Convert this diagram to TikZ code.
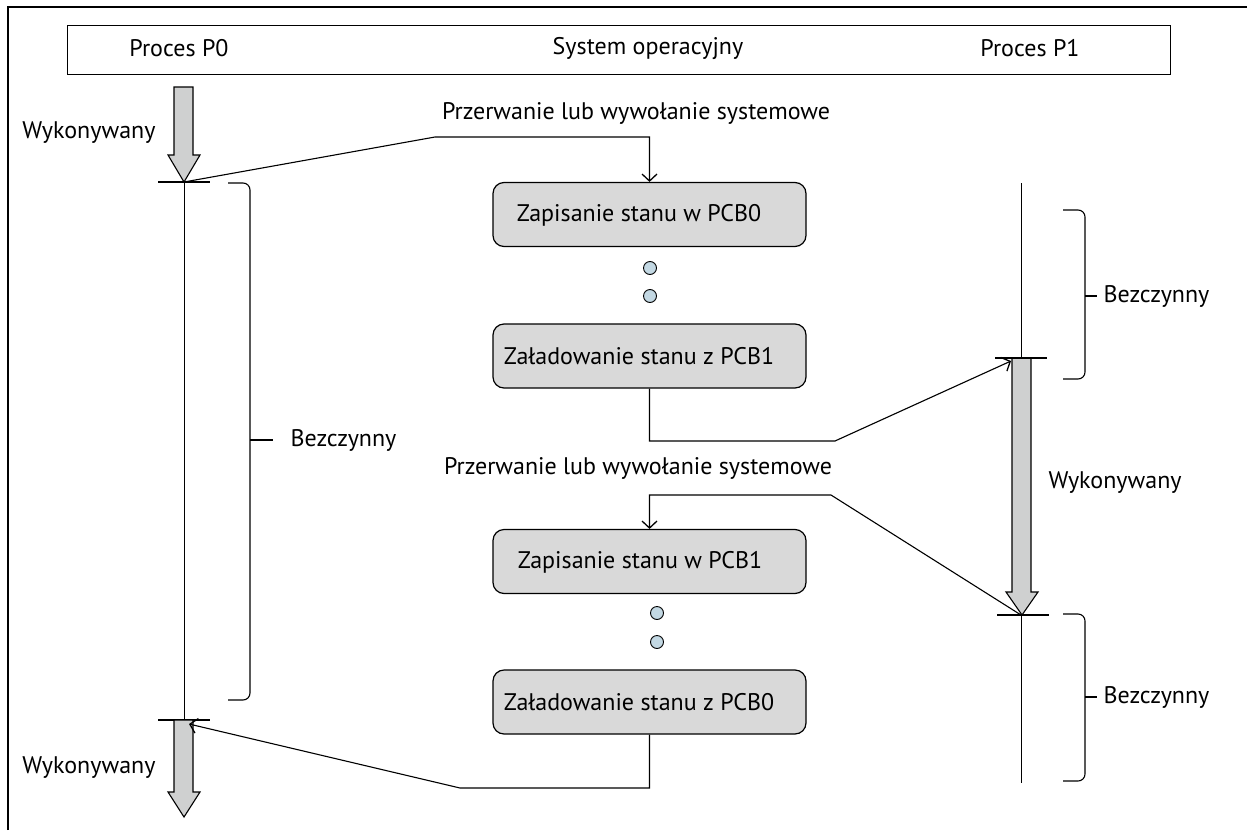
\documentclass[tikz,border=0pt]{standalone}
\usepackage{fontspec}
\setmainfont{PT Sans}
\usetikzlibrary{arrows.meta}
\definecolor{boxgray}{HTML}{D9D9D9}
\definecolor{rungray}{HTML}{CFD0D0}
\definecolor{dotblue}{HTML}{C3D8E3}
% thick gray arrow: x, top of shaft, top of head, tip
\newcommand{\RunArrow}[4]{%
  \path[runarrow] (#1-10,#2) -- (#1+9,#2) -- (#1+9,#3) -- (#1+16,#3) -- (#1,#4)
    -- (#1-16,#3) -- (#1-10,#3) -- cycle;}
% idle bracket: x, top, bottom, middle, length of the middle tick
\newcommand{\IdleBrace}[5]{%
  \draw[rounded corners=7pt] (#1-22,#2) -- (#1,#2) -- (#1,#3) -- (#1-22,#3);
  \draw (#1,#4) -- (#1+#5,#4);}
\begin{document}
\begin{tikzpicture}[x=1pt,y=-1pt,line width=1.1pt,
  font=\fontsize{24}{28}\selectfont,
  opbox/.style={draw,fill=boxgray,rounded corners=11pt,line width=1.2pt,
    minimum width=313pt,minimum height=64pt,inner sep=0pt},
  lbl/.style={inner sep=0pt,anchor=center},
  runarrow/.style={draw,fill=rungray,line width=1.1pt,line join=miter},
  dotc/.style={draw,fill=dotblue,circle,minimum size=13pt,inner sep=0pt,line width=0.9pt},
  arr/.style={-{Straight Barb[length=7pt,width=15pt,line width=1.3pt]}},
  tick/.style={line width=1.1pt},
  timeline/.style={line width=0.9pt}]
\useasboundingbox (0,0) rectangle (1247,830);
\fill[white] (0,0) rectangle (1247,830);

% frame and header
\draw[line width=1.2pt] (8,830) -- (8,7) -- (1247,7);
\node[draw,line width=1.1pt,minimum width=1103pt,minimum height=49pt,inner sep=0pt,anchor=north west]
  (head) at (67,25) {};
\node[lbl] (hp0) at (179,48) {Proces P0};
\node[lbl] (hos) at (648,48) {System operacyjny};
\node[lbl] (hp1) at (1030,48) {Proces P1};

% timeline of P0
\coordinate (p0a) at (184,182);
\coordinate (p0b) at (184,720);
\coordinate (p0in) at (189,724);
\RunArrow{184}{87}{155}{182}
\draw[tick] (158,182) -- (210,182);
\draw[timeline] (p0a) -- (p0b);
\draw[tick] (158,720) -- (210,720);
\RunArrow{184}{720}{792}{817}
\node[lbl] (w0a) at (89,133) {Wykonywany};
\node[lbl] (w0b) at (89,768) {Wykonywany};
\IdleBrace{250}{183}{700}{440}{23}
\node[lbl,anchor=west] (b0) at (290,440) {Bezczynny};

% timeline of P1
\coordinate (p1a) at (1021,358);
\coordinate (p1b) at (1021,615);
\coordinate (p1in) at (1011,361);
\draw[timeline] (1021,183) -- (1021,783);
\RunArrow{1022}{358}{592}{615}
\draw[tick] (995,358) -- (1047,358);
\draw[tick] (997,615) -- (1049,615);
\node[lbl,anchor=west] (w1) at (1048,483) {Wykonywany};
\IdleBrace{1085}{210}{379}{296}{12}
\node[lbl,anchor=west] (b1a) at (1103,296) {Bezczynny};
\IdleBrace{1085}{614}{781}{697}{12}
\node[lbl,anchor=west] (b1b) at (1103,697) {Bezczynny};

% operating system steps
\node[opbox] (s0) at (649.5,214.5) {};
\node[lbl] at (639,215) {Zapisanie stanu w PCB0};
\node[dotc] (d1) at (650,268) {};
\node[dotc] (d2) at (650,296) {};
\node[opbox] (l1) at (649.5,356) {};
\node[lbl] at (639,356) {Załadowanie stanu z PCB1};
\node[opbox] (s1) at (649.5,561.5) {};
\node[lbl] at (640,562) {Zapisanie stanu w PCB1};
\node[dotc] (d3) at (657,613) {};
\node[dotc] (d4) at (657,642) {};
\node[opbox] (l0) at (649.5,702) {};
\node[lbl] at (639,702) {Załadowanie stanu z PCB0};

\node[lbl] (i0) at (636,113) {Przerwanie lub wywołanie systemowe};
\node[lbl] (i1) at (638,468) {Przerwanie lub wywołanie systemowe};

% context switch connectors
\coordinate (k0) at (435,137);
\coordinate (k1) at (835,441);
\coordinate (k2) at (831,495);
\coordinate (k3) at (460,788);
\draw[arr] (p0a) -- (k0) -| (s0.north);
\draw[arr] (l1.south) |- (k1) -- (p1in);
\draw[arr] (p1b) -- (k2) -| (s1.north);
\draw[arr] (l0.south) |- (k3) -- (p0in);
\end{tikzpicture}
\end{document}
